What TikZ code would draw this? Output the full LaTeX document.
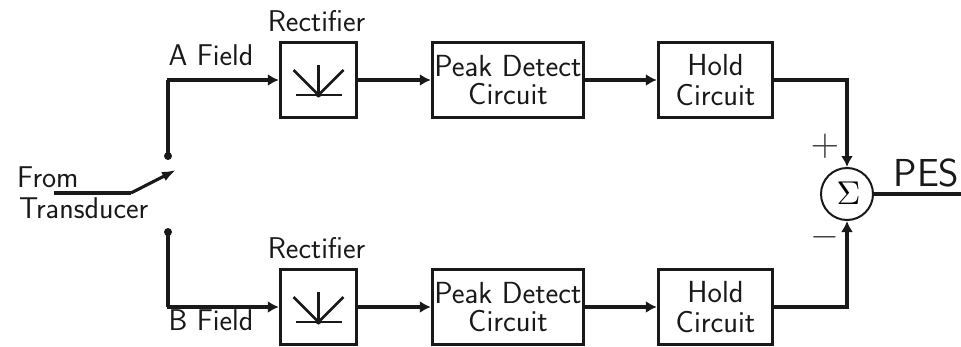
\documentclass[tikz,border=0pt]{standalone}
\usetikzlibrary{arrows.meta}
\begin{document}
\begin{tikzpicture}[x=1pt,y=-1pt,
  box/.style={draw,color=black!90,line width=3.4pt,inner sep=0pt,anchor=center,align=center,font=\sffamily\fontsize{30.5}{30.5}\selectfont},
  lbl/.style={inner sep=0pt,font=\sffamily\fontsize{30}{30}\selectfont,text=black!90},
  wire/.style={line width=3.1pt,color=black!90},
  arr/.style={wire,-{Latex[length=11pt,width=12pt]}},
  thin wire/.style={line width=2.6pt,color=black!90},
  sign/.style={inner sep=0pt,font=\normalsize,text=black!75}]
\useasboundingbox (0,0) rectangle (961,346);
\foreach \n/\y in {a/80,b/307}{
  \node[box,minimum width=76pt,minimum height=75pt] (r\n) at (318.5,\y) {};
  \node[box,minimum width=151pt,minimum height=75pt] (p\n) at (508,\y) {Peak Detect\\[-2.5pt]Circuit};
  \node[box,minimum width=114pt,minimum height=75pt] (h\n) at (715.5,\y) {\raisebox{-2pt}{Hold}\\\raisebox{-1pt}{Circuit}};
  \draw[arr] (r\n.east) -- (p\n.west);
  \draw[arr] (p\n.east) -- (h\n.west);
}
\foreach \n/\y in {a/95,b/322}{
  \coordinate (rc\n) at (318.5,\y);
  \draw[thin wire] ([xshift=-23pt]rc\n) -- ([xshift=23pt]rc\n);
  \draw[thin wire] (rc\n) -- ++(0,-30);
  \draw[thin wire] (rc\n) -- ++(-25,-25);
  \draw[thin wire] (rc\n) -- ++(25,-25);
  \fill[black!90] (rc\n) circle (2.5pt);
}
\node[lbl] (t1) at (316.5,21) {Rectifier};
\node[lbl] (t2) at (316.5,248) {Rectifier};
\node[lbl] (ta) at (211,55) {A Field};
\node[lbl] (tb) at (211,320) {B Field};
\node[lbl,anchor=west] (from) at (17,177) {From};
\node[lbl,anchor=west] (tr) at (19,208) {Transducer};
\node[circle,fill=black!90,inner sep=0pt,minimum size=8pt] (c1) at (168,156) {};
\node[circle,fill=black!90,inner sep=0pt,minimum size=8pt] (c2) at (168,232) {};
\coordinate (k1) at (c1 |- ra.west);
\coordinate (k2) at (c2 |- rb.west);
\draw[wire] (c1.center) -- (k1);
\draw[arr] ([xshift=-1.5pt]k1) -- (ra.west);
\draw[wire] (c2.center) -- (k2);
\draw[arr] ([xshift=-1.5pt]k2) -- (rb.west);
\coordinate (s0) at (54,193);
\coordinate (s1) at (131,193);
\coordinate (s2) at (176,170);
\draw[wire] (s0) -- (s1);
\draw[wire,-{Latex[length=14pt,width=10pt]}] (s1) -- (s2);
\node[circle,draw=black!90,line width=2pt,minimum size=52pt,inner sep=0pt] (sum) at (847,194) {\hspace*{3pt}\raisebox{2pt}{\scalebox{3.3}{$\Sigma$}}};
\coordinate (k3) at (sum.north |- ha.east);
\coordinate (k4) at (sum.south |- hb.east);
\draw[wire] (ha.east) -- ([xshift=1.5pt]k3);
\draw[arr] (k3) -- (sum.north);
\draw[wire] (hb.east) -- ([xshift=1.5pt]k4);
\draw[arr] (k4) -- (sum.south);
\coordinate (o) at (961,194);
\draw[wire] (sum.east) -- (o);
\node[lbl,font=\sffamily\fontsize{39}{39}\selectfont] (pes) at (926.5,172.5) {PES};
\node[sign] (plus) at (825,146) {\scalebox{3.7}{$+$}};
\node[sign] (minus) at (825,237) {\scalebox{3.7}{$-$}};
\end{tikzpicture}
\end{document}
